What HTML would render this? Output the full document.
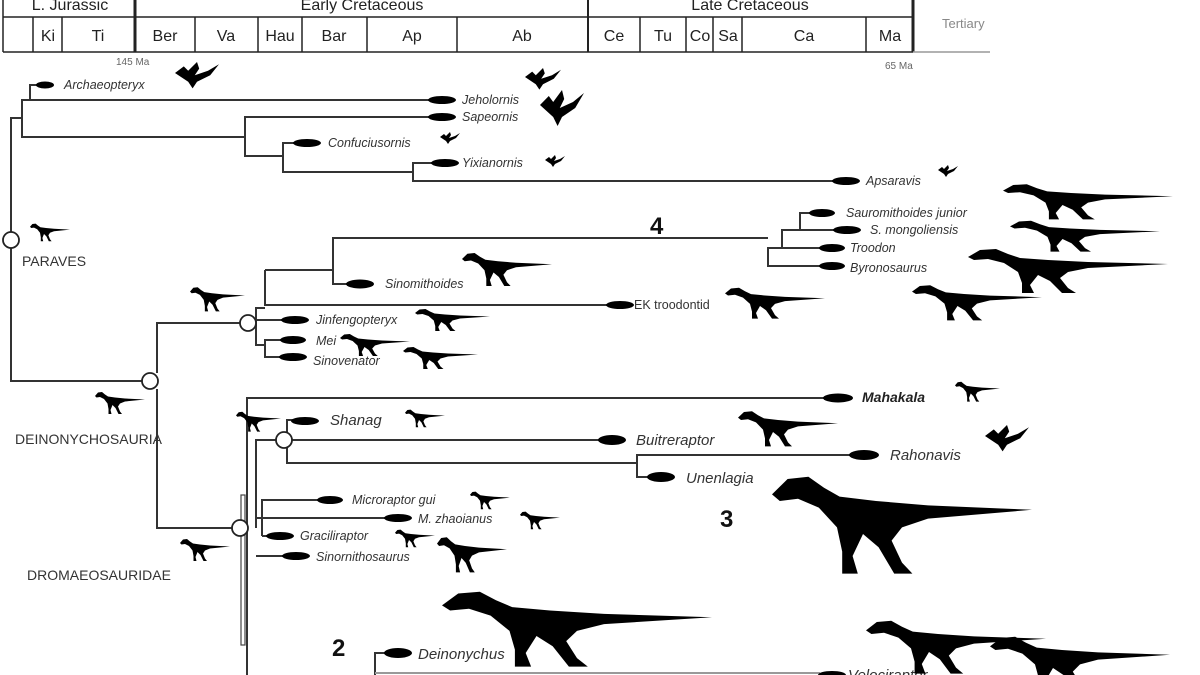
<!DOCTYPE html>
<html><head><meta charset="utf-8"><style>
html,body{margin:0;padding:0;background:#fff;width:1200px;height:675px;overflow:hidden}
svg text{font-family:"Liberation Sans",sans-serif}
.sp{font-style:italic;font-size:12.5px;fill:#333}
.hd{font-size:16px;fill:#222}
.cl{font-size:14px;fill:#333}
</style></head><body>
<svg width="1200" height="675" viewBox="0 0 1200 675" xmlns="http://www.w3.org/2000/svg">
<defs>
<path id="d" d="M0,12 L6,5 L14,4 L20,9 L26,13 L40,15 L60,17 L100,19 L60,23 L50,27 L46,33 L50,43 L54,48 L47,48 L41,36 L35,30 L31,40 L33,48 L27,48 L27,38 L25,27 L18,18 L10,14 L3,15 Z" fill="#000"/>
<path id="b" d="M0,10 L8,4 L12,8 L20,0 L22,6 L18,12 L30,8 L40,2 L32,12 L20,18 L16,24 L12,18 L6,14 Z" fill="#000"/>
</defs>
<g stroke="#222" stroke-width="1.5" fill="none">
<line x1="3" y1="-2" x2="3" y2="52"/>
<line x1="3" y1="17" x2="913" y2="17"/>
<line x1="3" y1="52" x2="913" y2="52"/>
<line x1="33" y1="17" x2="33" y2="52"/><line x1="62" y1="17" x2="62" y2="52"/>
<line x1="135" y1="-2" x2="135" y2="52" stroke-width="3"/>
<line x1="195" y1="17" x2="195" y2="52"/><line x1="258" y1="17" x2="258" y2="52"/>
<line x1="302" y1="17" x2="302" y2="52"/><line x1="367" y1="17" x2="367" y2="52"/>
<line x1="457" y1="17" x2="457" y2="52"/>
<line x1="588" y1="-2" x2="588" y2="52" stroke-width="2"/>
<line x1="640" y1="17" x2="640" y2="52"/><line x1="686" y1="17" x2="686" y2="52"/>
<line x1="713" y1="17" x2="713" y2="52"/><line x1="742" y1="17" x2="742" y2="52"/>
<line x1="866" y1="17" x2="866" y2="52"/>
<line x1="913" y1="-2" x2="913" y2="52" stroke-width="3"/>
<line x1="913" y1="52" x2="990" y2="52" stroke="#999"/>
</g>
<g class="hd" text-anchor="middle">
<text x="70" y="10">L. Jurassic</text><text x="362" y="10">Early Cretaceous</text><text x="750" y="10">Late Cretaceous</text>
<text x="48" y="41">Ki</text><text x="98" y="41">Ti</text><text x="165" y="41">Ber</text><text x="226" y="41">Va</text>
<text x="280" y="41">Hau</text><text x="334" y="41">Bar</text><text x="412" y="41">Ap</text><text x="522" y="41">Ab</text>
<text x="614" y="41">Ce</text><text x="663" y="41">Tu</text><text x="700" y="41">Co</text><text x="728" y="41">Sa</text>
<text x="804" y="41">Ca</text><text x="890" y="41">Ma</text>
</g>
<text x="942" y="28" font-size="13" fill="#888">Tertiary</text>
<text x="116" y="65" font-size="10" fill="#666">145 Ma</text>
<text x="885" y="69" font-size="10" fill="#666">65 Ma</text>

<g stroke="#333" stroke-width="2" fill="none">
<polyline points="22,118 11,118 11,381 142,381"/>
<polyline points="30,100 22,100 22,137 245,137"/>
<polyline points="38,85 30,85 30,100 440,100"/>
<polyline points="440,117 245,117 245,156 283,156"/>
<polyline points="300,143 283,143 283,172 413,172"/>
<polyline points="440,163 413,163 413,181 835,181"/>
<polyline points="157,389 157,528 232,528"/>
<polyline points="157,373 157,323 240,323"/>
<polyline points="265,308 256,308 256,345 265,345"/>
<polyline points="265,270 265,305 610,305"/>
<polyline points="265,270 333,270 333,238 768,238"/>
<polyline points="333,238 333,284 350,284"/>
<polyline points="782,248 768,248 768,266 820,266"/>
<polyline points="800,230 782,230 782,248 820,248"/>
<polyline points="810,213 800,213 800,230 835,230"/>
<polyline points="256,320 285,320"/>
<polyline points="283,340 265,340 265,357 283,357"/>
<polyline points="247,675 247,398 828,398"/>
<polyline points="256,528 256,440 276,440"/>
<polyline points="292,440 600,440"/>
<polyline points="295,420 287,420 287,432"/>
<polyline points="287,448 287,463 637,463 637,455 850,455"/>
<polyline points="637,463 637,477 648,477"/>
<polyline points="262,536 262,500 318,500"/>
<polyline points="256,518 388,518"/>
<polyline points="262,536 270,536"/>
<polyline points="256,556 286,556"/>
<polyline points="390,653 375,653 375,675"/>
<polyline points="375,673 820,673" stroke="#999"/>
</g>
<rect x="241" y="495" width="4" height="150" fill="none" stroke="#444" stroke-width="1.2"/>
<g fill="#fff" stroke="#222" stroke-width="1.8">
<circle cx="11" cy="240" r="8"/><circle cx="150" cy="381" r="8"/>
<circle cx="248" cy="323" r="8"/><circle cx="240" cy="528" r="8"/>
<circle cx="284" cy="440" r="8"/>
</g>
<g fill="#000">
<ellipse cx="45" cy="85" rx="9" ry="3.5"/><ellipse cx="442" cy="100" rx="14" ry="4"/>
<ellipse cx="442" cy="117" rx="14" ry="4"/><ellipse cx="307" cy="143" rx="14" ry="4"/>
<ellipse cx="445" cy="163" rx="14" ry="4"/><ellipse cx="846" cy="181" rx="14" ry="4"/>
<ellipse cx="822" cy="213" rx="13" ry="4"/><ellipse cx="847" cy="230" rx="14" ry="4"/>
<ellipse cx="832" cy="248" rx="13" ry="4"/><ellipse cx="832" cy="266" rx="13" ry="4"/>
<ellipse cx="360" cy="284" rx="14" ry="4.5"/><ellipse cx="620" cy="305" rx="14" ry="4"/>
<ellipse cx="295" cy="320" rx="14" ry="4"/><ellipse cx="293" cy="340" rx="13" ry="4"/>
<ellipse cx="293" cy="357" rx="14" ry="4"/>
<ellipse cx="838" cy="398" rx="15" ry="4.5"/><ellipse cx="305" cy="421" rx="14" ry="4"/>
<ellipse cx="612" cy="440" rx="14" ry="5"/><ellipse cx="864" cy="455" rx="15" ry="5"/>
<ellipse cx="661" cy="477" rx="14" ry="5"/>
<ellipse cx="330" cy="500" rx="13" ry="4"/><ellipse cx="398" cy="518" rx="14" ry="4"/>
<ellipse cx="280" cy="536" rx="14" ry="4"/><ellipse cx="296" cy="556" rx="14" ry="4"/>
<ellipse cx="398" cy="653" rx="14" ry="5"/><ellipse cx="832" cy="675" rx="14" ry="4"/>
</g>
<g class="sp">
<text x="64" y="89">Archaeopteryx</text><text x="462" y="104">Jeholornis</text>
<text x="462" y="121">Sapeornis</text><text x="328" y="147">Confuciusornis</text>
<text x="462" y="167">Yixianornis</text><text x="866" y="185">Apsaravis</text>
<text x="846" y="217">Sauromithoides junior</text><text x="870" y="234">S. mongoliensis</text>
<text x="850" y="252">Troodon</text><text x="850" y="272">Byronosaurus</text>
<text x="385" y="288">Sinomithoides</text>
<text x="316" y="324">Jinfengopteryx</text><text x="316" y="345">Mei</text><text x="313" y="365">Sinovenator</text>
<text x="352" y="504">Microraptor gui</text><text x="418" y="523">M. zhaoianus</text>
<text x="300" y="540">Graciliraptor</text><text x="316" y="561">Sinornithosaurus</text>
</g>
<text x="634" y="309" font-size="12.5" fill="#333">EK troodontid</text>
<g font-style="italic" font-size="15" fill="#333">
<text x="330" y="425">Shanag</text><text x="636" y="445">Buitreraptor</text>
<text x="890" y="460">Rahonavis</text><text x="686" y="483">Unenlagia</text>
<text x="418" y="659">Deinonychus</text><text x="848" y="680">Velociraptor</text>
</g>
<text x="862" y="402" font-style="italic" font-weight="bold" font-size="14" fill="#222">Mahakala</text>
<g class="cl"><text x="22" y="266">PARAVES</text><text x="15" y="444">DEINONYCHOSAURIA</text><text x="27" y="580">DROMAEOSAURIDAE</text></g>
<g font-weight="bold" font-size="24" fill="#111"><text x="650" y="234">4</text><text x="720" y="527">3</text><text x="332" y="656">2</text></g>

<use href="#b" transform="translate(175,62) scale(1.1)"/>
<use href="#b" transform="translate(525,68) scale(0.9)"/>
<use href="#b" transform="translate(540,90) scale(1.1,1.5)"/>
<use href="#b" transform="translate(938,165) scale(0.5)"/>
<use href="#b" transform="translate(545,155) scale(0.5)"/>
<use href="#b" transform="translate(440,132) scale(0.5)"/>
<use href="#b" transform="translate(985,425) scale(1.1)"/>
<use href="#d" transform="translate(30,222) scale(0.4)"/>
<use href="#d" transform="translate(190,285) scale(0.55)"/>
<use href="#d" transform="translate(95,390) scale(0.5)"/>
<use href="#d" transform="translate(180,537) scale(0.5)"/>
<use href="#d" transform="translate(236,410) scale(0.45)"/>
<use href="#d" transform="translate(462,250) scale(0.9,0.75)"/>
<use href="#d" transform="translate(415,307) scale(0.75,0.5)"/>
<use href="#d" transform="translate(340,332) scale(0.7,0.5)"/>
<use href="#d" transform="translate(403,345) scale(0.75,0.5)"/>
<use href="#d" transform="translate(725,285) scale(1.0,0.7)"/>
<use href="#d" transform="translate(1003,181) scale(1.7,0.8)"/>
<use href="#d" transform="translate(1010,218) scale(1.5,0.7)"/>
<use href="#d" transform="translate(968,245) scale(2.0,1.0)"/>
<use href="#d" transform="translate(912,282) scale(1.3,0.8)"/>
<use href="#d" transform="translate(405,408) scale(0.4)"/>
<use href="#d" transform="translate(955,380) scale(0.45)"/>
<use href="#d" transform="translate(738,408) scale(1.0,0.8)"/>
<use href="#d" transform="translate(470,490) scale(0.4)"/>
<use href="#d" transform="translate(520,510) scale(0.4)"/>
<use href="#d" transform="translate(395,528) scale(0.4)"/>
<use href="#d" transform="translate(437,534) scale(0.7,0.8)"/>
<use href="#d" transform="translate(772,468) scale(2.6,2.2)"/>
<use href="#d" transform="translate(442,585) scale(2.7,1.7)"/>
<use href="#d" transform="translate(866,616) scale(1.8,1.2)"/>
<use href="#d" transform="translate(990,632) scale(1.8,1.2)"/>
</svg>
</body></html>
